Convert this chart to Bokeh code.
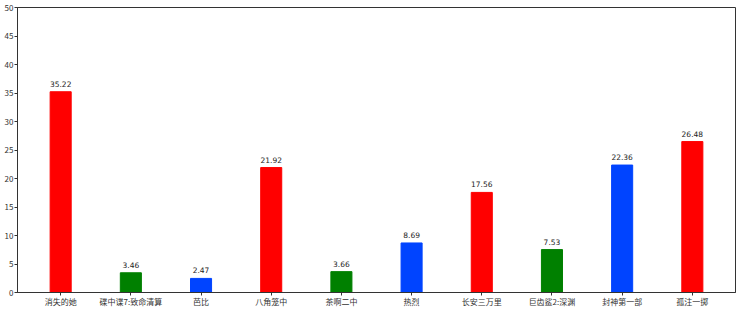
from bokeh.plotting import figure
from bokeh.models import Range1d, FixedTicker, ColumnDataSource
from bokeh.embed import file_html
from bokeh.resources import INLINE
from bokeh.core.properties import value

categories = ["消失的她", "碟中谍7:致命清算", "芭比", "八角笼中", "茶啊二中",
              "热烈", "长安三万里", "巨齿鲨2:深渊", "封神第一部", "孤注一掷"]
values = [35.22, 3.46, 2.47, 21.92, 3.66, 8.69, 17.56, 7.53, 22.36, 26.48]
colors = ["#ff0000", "#008000", "#0044ff", "#ff0000", "#008000",
          "#0044ff", "#ff0000", "#008000", "#0044ff", "#ff0000"]
y_ticks = [0, 5, 10, 15, 20, 25, 30, 35, 40, 45, 50]

xs = list(range(len(categories)))
src = ColumnDataSource(dict(x=xs, top=values, color=colors,
                            label=[f"{v:.2f}" for v in values]))

p = figure(width=740, height=309, output_backend="svg", toolbar_location=None,
           x_range=Range1d(-0.615, len(categories) - 1 + 0.615), y_range=Range1d(0, 50),
           min_border_left=17, min_border_right=5, min_border_top=7, min_border_bottom=17)

p.vbar(x="x", top="top", width=0.3, bottom=0, color="color", source=src)
p.text(x="x", y="top", text="label", source=src, text_align="center",
       text_baseline="bottom", y_offset=-5, text_font_size="7.5px",
       text_color="#222222", text_font=value("DejaVu Sans"))

p.xgrid.visible = False
p.ygrid.visible = False
p.outline_line_color = "#333333"
p.outline_line_width = 1

p.xaxis.ticker = FixedTicker(ticks=xs)
p.xaxis.major_label_overrides = {i: c for i, c in enumerate(categories)}
p.yaxis.ticker = FixedTicker(ticks=y_ticks)

for ax in (p.xaxis, p.yaxis):
    ax.axis_line_color = "#333333"
    ax.major_tick_line_color = "#333333"
    ax.minor_tick_line_color = None
    ax.major_tick_out = 3
    ax.major_tick_in = 0
    ax.major_label_standoff = 1
    ax.major_label_text_font_size = "8px"
    ax.major_label_text_color = "#333333"
    ax.major_label_text_font = "Noto Sans CJK SC"
p.xaxis.major_label_standoff = 0

p.background_fill_color = "white"
p.border_fill_color = "white"

open("out.html", "w").write(file_html(p, INLINE))
